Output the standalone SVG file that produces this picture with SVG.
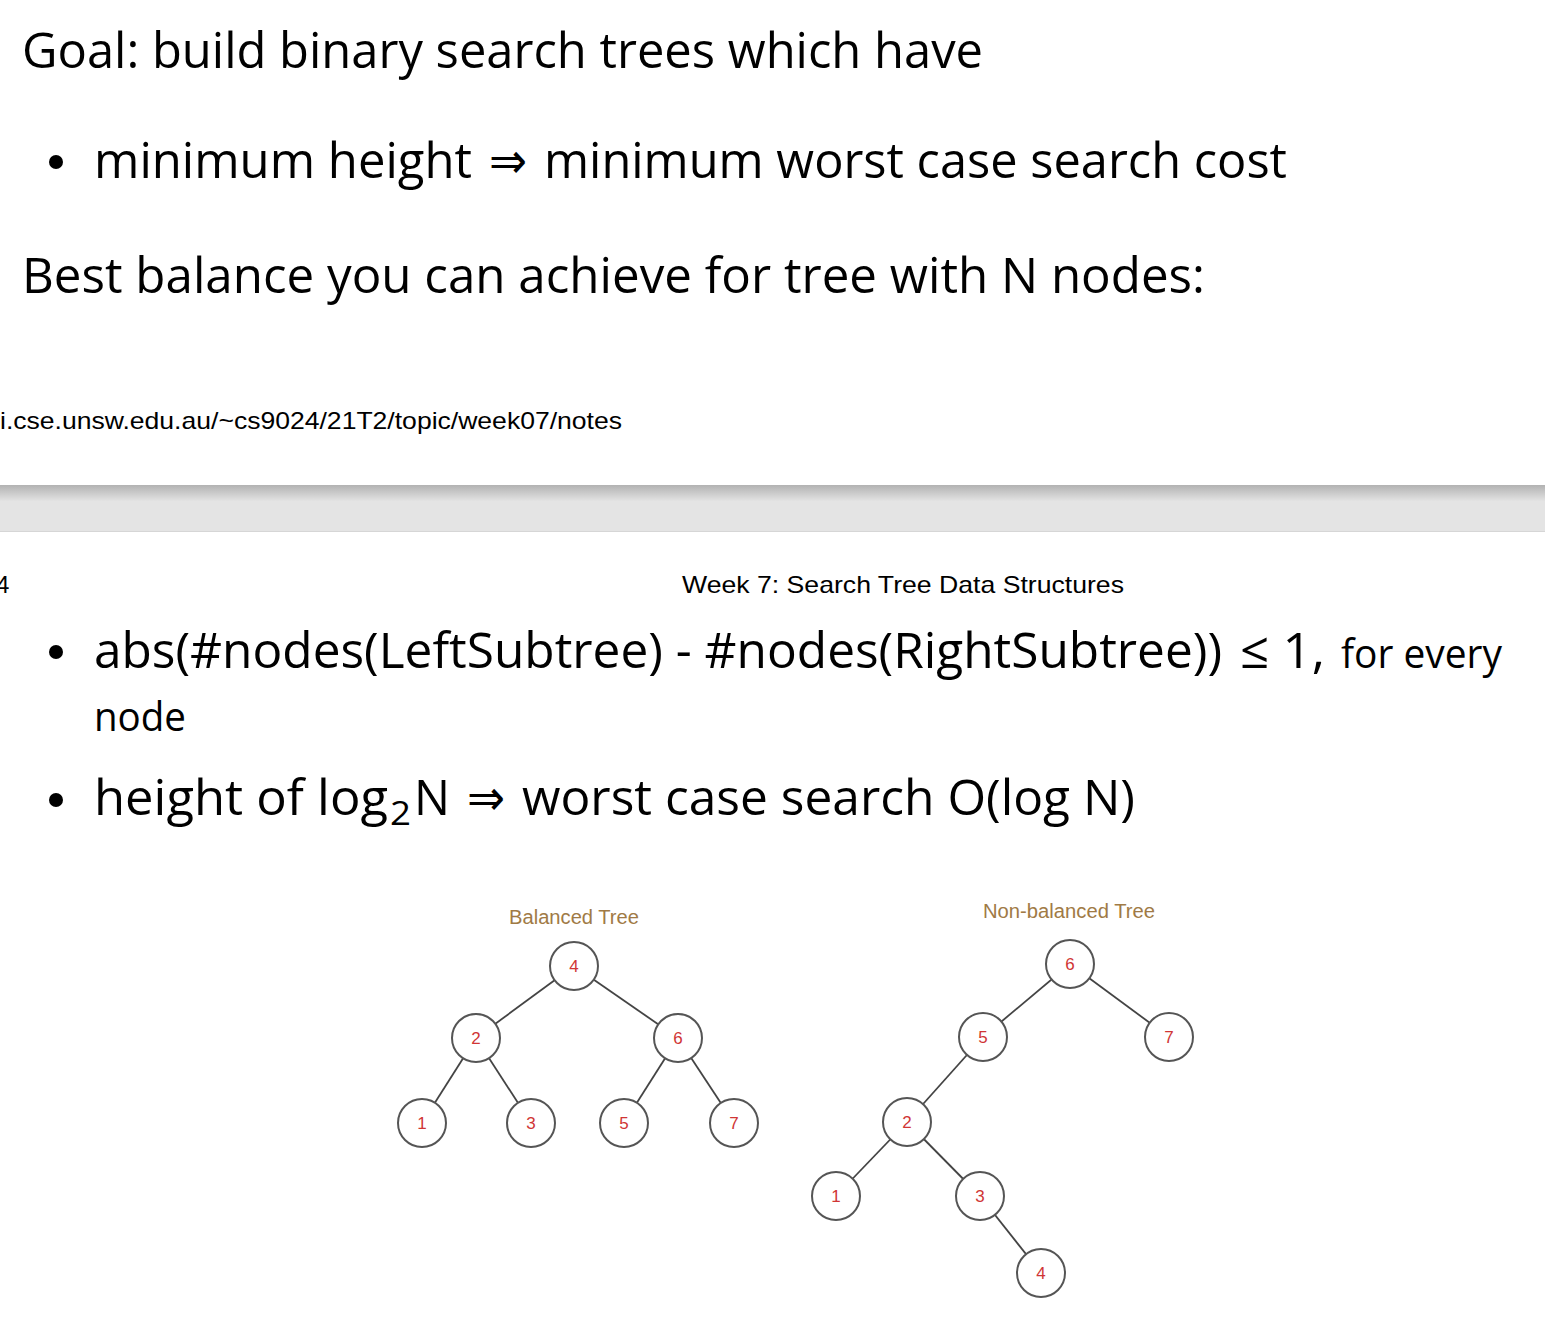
<svg xmlns="http://www.w3.org/2000/svg" width="1545" height="1320" viewBox="0 0 1545 1320">
<defs>
<linearGradient id="shade" x1="0" y1="0" x2="0" y2="1">
<stop offset="0" stop-color="#b2b2b2"/>
<stop offset="0.35" stop-color="#e4e4e4"/>
<stop offset="1" stop-color="#e4e4e4"/>
</linearGradient>
<style>
.big{font-family:"Open Sans","Noto Sans","DejaVu Sans",sans-serif;font-size:50px;fill:#000}
.mid{font-family:"Open Sans","Noto Sans","DejaVu Sans",sans-serif;font-size:40px;fill:#000}
.sub{font-family:"Open Sans","Noto Sans","DejaVu Sans",sans-serif;font-size:33px;fill:#000}
.small{font-family:"Liberation Sans",Arial,sans-serif;font-size:24px;fill:#000}
.title{font-family:"Liberation Sans",Arial,sans-serif;font-size:20px;fill:#a07a45}
.node circle{fill:#fff;stroke:#555;stroke-width:2}
.node text{font-family:"Liberation Sans",Arial,sans-serif;font-size:17px;fill:#d03535;text-anchor:middle}
.edges line{stroke:#444;stroke-width:1.8}
</style>
</defs>
<rect width="1545" height="1320" fill="#fff"/>

<text class="big" x="22" y="68" textLength="961" lengthAdjust="spacingAndGlyphs">Goal: build binary search trees which have</text>
<circle cx="56" cy="162" r="7" fill="#000"/>
<text class="big" x="94" y="178" textLength="378" lengthAdjust="spacingAndGlyphs">minimum height</text>
<text class="big" x="489" y="178" textLength="38" lengthAdjust="spacingAndGlyphs">⇒</text>
<text class="big" x="544" y="178" textLength="743" lengthAdjust="spacingAndGlyphs">minimum worst case search cost</text>
<text class="big" x="22" y="293" textLength="1183" lengthAdjust="spacingAndGlyphs">Best balance you can achieve for tree with N nodes:</text>

<text class="small" x="0" y="429" textLength="622" lengthAdjust="spacingAndGlyphs">i.cse.unsw.edu.au/~cs9024/21T2/topic/week07/notes</text>

<rect x="0" y="485" width="1545" height="47" fill="url(#shade)"/>
<rect x="0" y="531" width="1545" height="1" fill="#d6d6d6"/>

<text class="small" x="-4" y="593">4</text>
<text class="small" x="682" y="593" textLength="442" lengthAdjust="spacingAndGlyphs">Week 7: Search Tree Data Structures</text>

<circle cx="56" cy="652" r="7" fill="#000"/>
<text class="big" x="94" y="668" textLength="1128" lengthAdjust="spacingAndGlyphs">abs(#nodes(LeftSubtree) - #nodes(RightSubtree))</text>
<text class="big" x="1240" y="668" textLength="85" lengthAdjust="spacingAndGlyphs">≤ 1,</text>
<text class="mid" x="1341" y="668" textLength="161" lengthAdjust="spacingAndGlyphs">for every</text>
<text class="mid" x="94" y="731" textLength="92" lengthAdjust="spacingAndGlyphs">node</text>

<circle cx="56" cy="800" r="7" fill="#000"/>
<text class="big" x="94" y="815" textLength="294" lengthAdjust="spacingAndGlyphs">height of log</text>
<text class="sub" x="390" y="825" textLength="21" lengthAdjust="spacingAndGlyphs">2</text>
<text class="big" x="414" y="815" textLength="36" lengthAdjust="spacingAndGlyphs">N</text>
<text class="big" x="467" y="815" textLength="38" lengthAdjust="spacingAndGlyphs">⇒</text>
<text class="big" x="522" y="815" textLength="613" lengthAdjust="spacingAndGlyphs">worst case search O(log N)</text>

<text class="title" x="509" y="924" textLength="130" lengthAdjust="spacingAndGlyphs">Balanced Tree</text>
<text class="title" x="983" y="918" textLength="172" lengthAdjust="spacingAndGlyphs">Non-balanced Tree</text>

<g id="connectors" class="edges">
<line x1="574" y1="966" x2="476" y2="1038"/>
<line x1="574" y1="966" x2="678" y2="1038"/>
<line x1="476" y1="1038" x2="422" y2="1123"/>
<line x1="476" y1="1038" x2="531" y2="1123"/>
<line x1="678" y1="1038" x2="624" y2="1123"/>
<line x1="678" y1="1038" x2="734" y2="1123"/>
<line x1="1070" y1="964" x2="983" y2="1037"/>
<line x1="1070" y1="964" x2="1169" y2="1037"/>
<line x1="983" y1="1037" x2="907" y2="1122"/>
<line x1="907" y1="1122" x2="836" y2="1196"/>
<line x1="907" y1="1122" x2="980" y2="1196"/>
<line x1="980" y1="1196" x2="1041" y2="1273"/>
</g>

<g id="b4" class="node"><circle cx="574" cy="966" r="24"/><text x="574" y="972">4</text></g>
<g id="b2" class="node"><circle cx="476" cy="1038" r="24"/><text x="476" y="1044">2</text></g>
<g id="b6" class="node"><circle cx="678" cy="1038" r="24"/><text x="678" y="1044">6</text></g>
<g id="b1" class="node"><circle cx="422" cy="1123" r="24"/><text x="422" y="1129">1</text></g>
<g id="b3" class="node"><circle cx="531" cy="1123" r="24"/><text x="531" y="1129">3</text></g>
<g id="b5" class="node"><circle cx="624" cy="1123" r="24"/><text x="624" y="1129">5</text></g>
<g id="b7" class="node"><circle cx="734" cy="1123" r="24"/><text x="734" y="1129">7</text></g>

<g id="n6" class="node"><circle cx="1070" cy="964" r="24"/><text x="1070" y="970">6</text></g>
<g id="n5" class="node"><circle cx="983" cy="1037" r="24"/><text x="983" y="1043">5</text></g>
<g id="n7" class="node"><circle cx="1169" cy="1037" r="24"/><text x="1169" y="1043">7</text></g>
<g id="n2" class="node"><circle cx="907" cy="1122" r="24"/><text x="907" y="1128">2</text></g>
<g id="n1" class="node"><circle cx="836" cy="1196" r="24"/><text x="836" y="1202">1</text></g>
<g id="n3" class="node"><circle cx="980" cy="1196" r="24"/><text x="980" y="1202">3</text></g>
<g id="n4" class="node"><circle cx="1041" cy="1273" r="24"/><text x="1041" y="1279">4</text></g>
</svg>
